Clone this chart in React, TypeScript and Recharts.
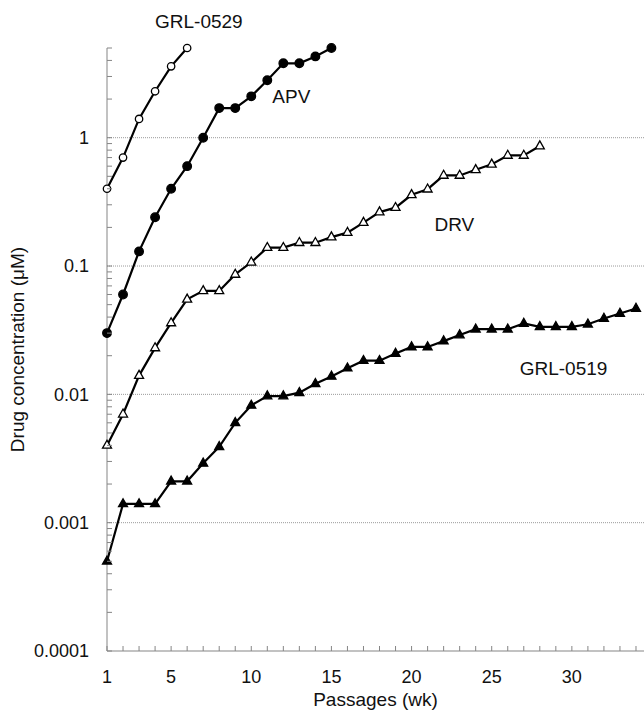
import React from 'react';
import { LineChart, Line, XAxis, YAxis, ReferenceLine, ReferenceDot } from 'recharts';

// ---- data ----
const weeks = [1, 2, 3, 4, 5, 6, 7, 8, 9, 10, 11, 12, 13, 14, 15, 16, 17, 18, 19, 20, 21, 22, 23, 24, 25, 26, 27, 28, 29, 30, 31, 32, 33, 34];
const grl0529 = [0.4, 0.7, 1.4, 2.3, 3.6, 5];
const apv = [0.03, 0.06, 0.13, 0.24, 0.4, 0.6, 1.0, 1.7, 1.7, 2.1, 2.8, 3.8, 3.8, 4.3, 5];
const drv = [0.004, 0.007, 0.014, 0.023, 0.036, 0.055, 0.064, 0.064, 0.086, 0.107, 0.139, 0.139, 0.152, 0.152, 0.168, 0.182, 0.218, 0.263, 0.285, 0.359, 0.397, 0.508, 0.508, 0.562, 0.62, 0.727, 0.727, 0.861];
const grl0519 = [0.0005, 0.0014, 0.0014, 0.0014, 0.0021, 0.0021, 0.0029, 0.0039, 0.006, 0.0082, 0.0097, 0.0097, 0.0103, 0.0121, 0.0138, 0.016, 0.0183, 0.0183, 0.0208, 0.0234, 0.0234, 0.026, 0.029, 0.0322, 0.0322, 0.0322, 0.0357, 0.0336, 0.0336, 0.0336, 0.0352, 0.039, 0.0427, 0.0467];

const xLabelTicks = [1, 5, 10, 15, 20, 25, 30];
const yMajorTicks = [0.0001, 0.001, 0.01, 0.1, 1];
const yMinorMultipliers = [1, 2, 3, 4, 5, 6, 7, 8, 9];
const yMax = 5;

const seriesNames = ['GRL-0529', 'APV', 'DRV', 'GRL-0519'];
const labelX = [6.73, 12.5, 22.67, 29.48];
const labelY = [8.06, 2.09, 0.212, 0.016];

const xAxisTitle = 'Passages (wk)';
const yAxisTitle = 'Drug concentration (\u03bcM)';

// ---- derived ----
const data = weeks.map((w, i) => ({
  week: w,
  grl0529: grl0529[i],
  apv: apv[i],
  drv: drv[i],
  grl0519: grl0519[i],
}));

const yTicks: number[] = [];
yMajorTicks.forEach((m) => {
  yMinorMultipliers.forEach((k) => {
    const v = k === 1 ? m : parseFloat((m * k).toPrecision(6));
    if (v <= yMax) yTicks.push(v);
  });
});

const FONT = '"Liberation Sans", Arial, Helvetica, sans-serif';
const AXIS_GRAY = '#858585';

function YTick(props: any) {
  const { x, y, payload } = props;
  const v = payload.value;
  const major = yMajorTicks.includes(v);
  return (
    <g>
      <line x1={x} x2={x + 5} y1={y} y2={y} stroke={AXIS_GRAY} strokeWidth={1} />
      {major && (
        <text x={x - 18} y={y + 6.4} textAnchor="end" fontSize={18} fill="#111" fontFamily={FONT}>
          {String(v)}
        </text>
      )}
    </g>
  );
}

function XTick(props: any) {
  const { x, y, payload } = props;
  const v = payload.value;
  const labeled = xLabelTicks.includes(v);
  return (
    <g>
      <line x1={x} x2={x} y1={y} y2={y - 5} stroke={AXIS_GRAY} strokeWidth={1} />
      {labeled && (
        <text x={x} y={y + 32} textAnchor="middle" fontSize={18} fill="#111" fontFamily={FONT}>
          {String(v)}
        </text>
      )}
    </g>
  );
}

function makeDot(kind: 'openCircle' | 'filledCircle' | 'openTri' | 'filledTri') {
  return (p: any) => {
    const key = `dot-${kind}-${p.index}`;
    const { cx, cy } = p;
    if (cx == null || cy == null || p.value == null || (Array.isArray(p.value) && p.value[1] == null)) {
      return <g key={key} />;
    }
    if (kind === 'openCircle' || kind === 'filledCircle') {
      return (
        <circle
          key={key}
          cx={cx}
          cy={cy}
          r={kind === 'openCircle' ? 3.7 : 4.3}
          fill={kind === 'openCircle' ? '#fff' : '#000'}
          stroke="#000"
          strokeWidth={1.3}
        />
      );
    }
    const pts = `${cx},${cy - 5.2} ${cx - 4.5},${cy + 2.8} ${cx + 4.5},${cy + 2.8}`;
    return (
      <polygon
        key={key}
        points={pts}
        fill={kind === 'openTri' ? '#fff' : '#000'}
        stroke="#000"
        strokeWidth={1.3}
        strokeLinejoin="miter"
      />
    );
  };
}

function YTitle(props: any) {
  const vb = props.viewBox || { x: 0, y: 48, width: 107, height: 603 };
  const cx = vb.x + 23.5;
  const cy = vb.y + vb.height / 2;
  return (
    <text
      x={cx}
      y={cy}
      transform={`rotate(-90, ${cx}, ${cy})`}
      textAnchor="middle"
      fontSize={19}
      fill="#111"
      fontFamily={FONT}
    >
      {yAxisTitle}
    </text>
  );
}

function XTitle(props: any) {
  const vb = props.viewBox || { x: 107, y: 651, width: 537, height: 60 };
  return (
    <text
      x={vb.x + vb.width / 2}
      y={vb.y + 55}
      textAnchor="middle"
      fontSize={19}
      fill="#111"
      fontFamily={FONT}
    >
      {xAxisTitle}
    </text>
  );
}

export default function App() {
  return (
    <div style={{ position: 'absolute', left: 0, top: 0, width: 644, height: 711, background: '#fff' }}>
      <LineChart
        width={644}
        height={711}
        data={data}
        margin={{ top: 48, right: 0, bottom: 0, left: 0 }}
        style={{ fontFamily: FONT }}
      >
        <XAxis
          dataKey="week"
          type="number"
          domain={[1, 34.5]}
          ticks={weeks}
          interval={0}
          tickSize={0}
          tickMargin={0}
          tickLine={false}
          axisLine={{ stroke: AXIS_GRAY, strokeWidth: 1 }}
          height={60}
          tick={(p: any) => <XTick {...p} />}
          label={(p: any) => <XTitle {...p} />}
        />
        <YAxis
          type="number"
          scale="log"
          domain={[yMajorTicks[0], yMax]}
          ticks={yTicks}
          interval={0}
          tickSize={0}
          tickMargin={0}
          tickLine={false}
          axisLine={{ stroke: AXIS_GRAY, strokeWidth: 1 }}
          width={107}
          tick={(p: any) => <YTick {...p} />}
          label={(p: any) => <YTitle {...p} />}
        />
        {yMajorTicks.slice(1).map((v) => (
          <ReferenceLine key={`grid-${v}`} y={v} stroke="#9a9a9a" strokeWidth={1} strokeDasharray="1 1" />
        ))}
        <Line
          type="linear"
          dataKey="grl0519"
          stroke="#000"
          strokeWidth={2.2}
          dot={makeDot('filledTri')}
          activeDot={false}
          isAnimationActive={false}
        />
        <Line
          type="linear"
          dataKey="drv"
          stroke="#000"
          strokeWidth={2.2}
          dot={makeDot('openTri')}
          activeDot={false}
          isAnimationActive={false}
        />
        <Line
          type="linear"
          dataKey="apv"
          stroke="#000"
          strokeWidth={2.2}
          dot={makeDot('filledCircle')}
          activeDot={false}
          isAnimationActive={false}
        />
        <Line
          type="linear"
          dataKey="grl0529"
          stroke="#000"
          strokeWidth={2.2}
          dot={makeDot('openCircle')}
          activeDot={false}
          isAnimationActive={false}
        />
        {seriesNames.map((name, i) => (
          <ReferenceDot
            key={`lbl-${name}`}
            x={labelX[i]}
            y={labelY[i]}
            r={0}
            fill="none"
            stroke="none"
            ifOverflow="visible"
            label={{ value: name, position: 'center', fontSize: 19, fill: '#111', fontFamily: FONT }}
          />
        ))}
      </LineChart>
    </div>
  );
}
